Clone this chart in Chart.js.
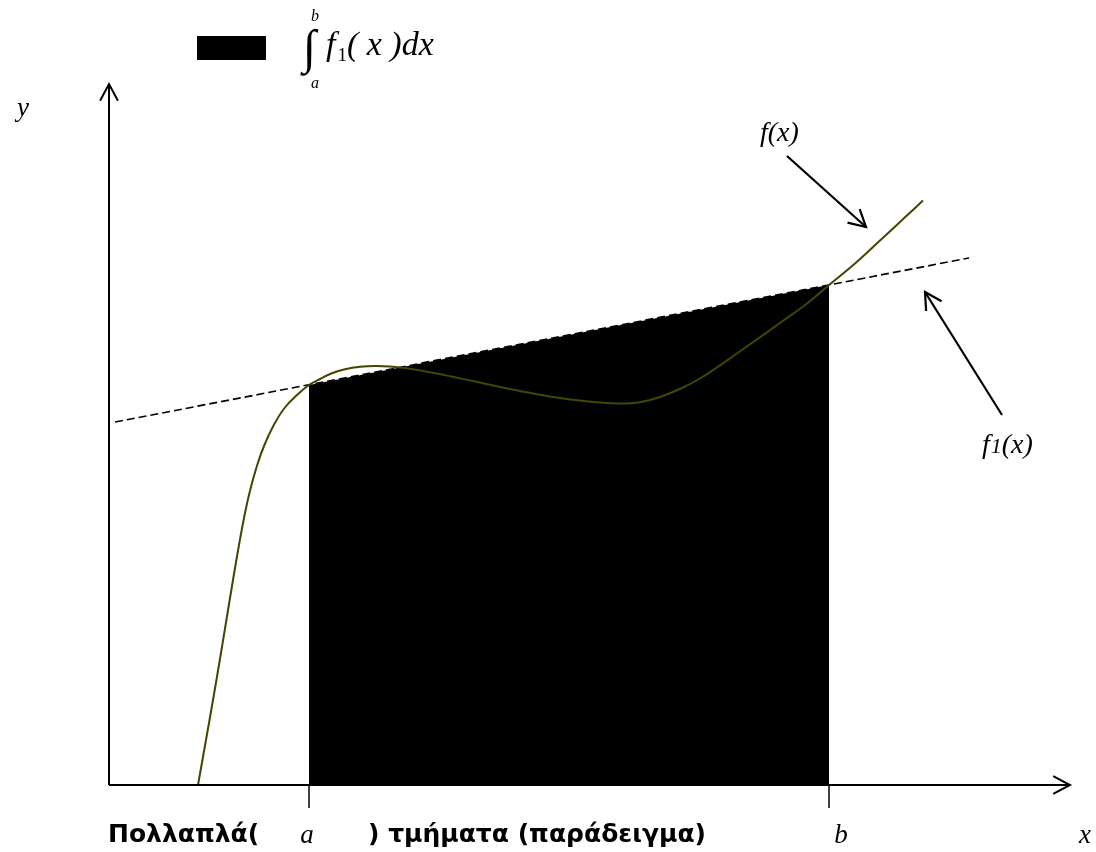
<!DOCTYPE html>
<html>
<head>
<meta charset="utf-8">
<script src="https://cdn.jsdelivr.net/npm/chart.js@4/dist/chart.umd.min.js"></script>
<style>
  html, body { margin: 0; padding: 0; background: #ffffff; }
  #wrap { width: 1096px; height: 852px; position: relative; }
</style>
</head>
<body>
<div id="wrap"><canvas id="c"></canvas></div>
<script>
// f(x): sampled curve
const curveX = [0.890, 0.970, 1.040, 1.108, 1.174, 1.240, 1.300, 1.356, 1.412, 1.482, 1.554, 1.648, 1.755, 1.880, 2.000,
                2.110, 2.230, 2.360, 2.510, 2.660, 2.810, 3.010, 3.210, 3.410, 3.660, 3.910, 4.160, 4.410, 4.660, 4.910,
                5.110, 5.310, 5.510, 5.740, 5.910, 6.080, 6.240, 6.410, 6.580, 6.740, 6.980, 7.200, 7.460, 7.710, 7.960, 8.140];
const curveY = [0.000, 0.450, 0.850, 1.250, 1.650, 2.050, 2.400, 2.700, 2.950, 3.200, 3.400, 3.600, 3.770, 3.900, 4.000,
                4.060, 4.117, 4.157, 4.182, 4.190, 4.184, 4.162, 4.128, 4.088, 4.034, 3.980, 3.930, 3.886, 3.850, 3.824,
                3.814, 3.828, 3.880, 3.975, 4.065, 4.175, 4.288, 4.407, 4.527, 4.642, 4.815, 5.000, 5.215, 5.445, 5.677, 5.845];

// f1(x): straight line through (a, f(a)) and (b, f(b))
const lineX = [0.06, 8.60];
const lineY = [3.63, 5.27];

// integration limits and the value of f1 at each of them
const limitX = [2.0, 7.2];
const limitY = [4.0, 5.0];
const limitLabels = ['a', 'b'];

const axisLabels = ['x', 'y'];
const curveLabels = ['f(x)', 'f1(x)'];
const titleParts = ['Πολλαπλά(', ') τμήματα (παράδειγμα)'];

// layout of the drawing (data units for things placed on the plane)
const view = { xMin: -1.09, xMax: 9.87, yMin: -0.67, yMax: 7.85 };
const axisEnd = { x: 9.61, y: 7.01 };
const pointers = [
  { from: [6.78, 6.29], to: [7.57, 5.58], label: [760, 141] },
  { from: [8.93, 3.70], to: [8.16, 4.93], label: [982, 453] }
];

const serif = '"Liberation Serif", "Times New Roman", serif';
const sans = '"DejaVu Sans", Verdana, sans-serif';

function toPoints(xs, ys) { return xs.map((x, i) => ({ x: x, y: ys[i] })); }

function arrowHead(ctx, x0, y0, x1, y1, len, ang) {
  const t = Math.atan2(y1 - y0, x1 - x0);
  ctx.beginPath();
  ctx.moveTo(x1 - len * Math.cos(t - ang), y1 - len * Math.sin(t - ang));
  ctx.lineTo(x1, y1);
  ctx.lineTo(x1 - len * Math.cos(t + ang), y1 - len * Math.sin(t + ang));
  ctx.stroke();
}

const decorations = {
  id: 'decorations',
  afterDatasetsDraw(chart) {
    const ctx = chart.ctx;
    const xs = chart.scales.x, ys = chart.scales.y;
    const X = v => xs.getPixelForValue(v), Y = v => ys.getPixelForValue(v);
    const ox = X(0), oy = Y(0);
    ctx.save();
    ctx.strokeStyle = '#000';
    ctx.fillStyle = '#000';
    ctx.lineCap = 'butt';
    ctx.lineJoin = 'miter';

    // axes with open arrow heads
    ctx.lineWidth = 2;
    ctx.beginPath();
    ctx.moveTo(ox, oy); ctx.lineTo(X(axisEnd.x), oy);
    ctx.moveTo(ox, oy); ctx.lineTo(ox, Y(axisEnd.y));
    ctx.stroke();
    arrowHead(ctx, ox, oy, X(axisEnd.x), oy, 19, 0.49);
    arrowHead(ctx, ox, oy, ox, Y(axisEnd.y), 19, 0.49);

    // ticks at the limits
    ctx.lineWidth = 1.5;
    limitX.forEach(v => {
      ctx.beginPath();
      ctx.moveTo(X(v), oy); ctx.lineTo(X(v), oy + 23);
      ctx.stroke();
    });

    // pointer arrows to the curves
    ctx.lineWidth = 2.2;
    pointers.forEach(p => {
      const x0 = X(p.from[0]), y0 = Y(p.from[1]), x1 = X(p.to[0]), y1 = Y(p.to[1]);
      ctx.beginPath(); ctx.moveTo(x0, y0); ctx.lineTo(x1, y1); ctx.stroke();
      arrowHead(ctx, x0, y0, x1, y1, 19, 0.5);
    });

    // labels of limits and axes
    ctx.textBaseline = 'alphabetic';
    ctx.textAlign = 'center';
    ctx.font = 'italic 27px ' + serif;
    ctx.fillText(limitLabels[0], X(limitX[0]) - 2, 843);
    ctx.fillText(limitLabels[1], X(limitX[1]) + 12, 843);
    ctx.fillText(axisLabels[0], 1085, 843);
    ctx.fillText(axisLabels[1], 23, 116);

    // curve labels
    ctx.textAlign = 'left';
    ctx.font = 'italic 28px ' + serif;
    ctx.fillText(curveLabels[0], pointers[0].label[0], pointers[0].label[1]);
    let lx = pointers[1].label[0], ly = pointers[1].label[1];
    ctx.fillText('f', lx, ly); lx += ctx.measureText('f').width + 1;
    ctx.font = 'italic 22px ' + serif;
    ctx.fillText('1', lx, ly); lx += ctx.measureText('1').width;
    ctx.font = 'italic 28px ' + serif;
    ctx.fillText('(x)', lx, ly);

    // caption along the bottom
    ctx.font = 'bold 25px ' + sans;
    ctx.fillText(titleParts[0], 108, 842);
    ctx.fillText(titleParts[1], 368, 842);

    // legend: filled swatch and the integral it stands for
    const area = chart.data.datasets[2];
    ctx.fillStyle = area.backgroundColor;
    ctx.fillRect(197, 36, 69, 24);
    ctx.fillStyle = '#000';
    ctx.font = '48px ' + serif;
    ctx.fillText('\u222B', 303, 63);
    ctx.font = 'italic 16px ' + serif;
    ctx.fillText(limitLabels[1], 311, 21);
    ctx.fillText(limitLabels[0], 311, 88);
    let fx = 326;
    ctx.font = 'italic 34px ' + serif;
    ctx.fillText('f', fx, 55); fx += ctx.measureText('f').width + 2;
    ctx.font = '19px ' + serif;
    ctx.fillText('1', fx, 61); fx += ctx.measureText('1').width;
    ctx.font = 'italic 34px ' + serif;
    ctx.fillText('( x )dx', fx, 55);

    ctx.restore();
  }
};

new Chart(document.getElementById('c'), {
  type: 'line',
  data: {
    datasets: [
      {
        label: 'f(x)',
        data: toPoints(curveX, curveY),
        borderColor: '#454400',
        borderWidth: 2,
        pointRadius: 0,
        tension: 0.4,
        fill: false,
        order: 0
      },
      {
        label: 'f1(x)',
        data: toPoints(lineX, lineY),
        borderColor: '#000000',
        borderWidth: 1.6,
        borderDash: [8, 4],
        pointRadius: 0,
        fill: false,
        order: 1
      },
      {
        label: '\u222B f1(x)dx',
        data: toPoints(limitX, limitY),
        borderColor: '#000000',
        borderWidth: 0,
        backgroundColor: '#000000',
        pointRadius: 0,
        fill: 'origin',
        order: 2
      }
    ]
  },
  options: {
    responsive: true,
    maintainAspectRatio: false,
    animation: false,
    layout: { padding: 0 },
    plugins: { legend: { display: false }, title: { display: false }, tooltip: { enabled: false } },
    scales: {
      x: { type: 'linear', display: false, min: view.xMin, max: view.xMax },
      y: { type: 'linear', display: false, min: view.yMin, max: view.yMax }
    }
  },
  plugins: [decorations]
});
</script>
</body>
</html>
